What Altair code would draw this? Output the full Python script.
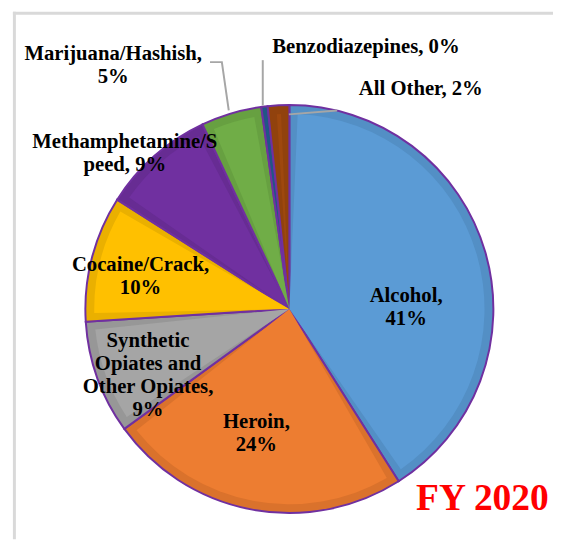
import math
import altair as alt
import pandas as pd

# ---- data -------------------------------------------------------------
categories = ["Alcohol", "Heroin", "Synthetic Opiates and Other Opiates",
              "Cocaine/Crack", "Methamphetamine/Speed", "Marijuana/Hashish",
              "Benzodiazepines", "All Other"]
shares = [41.0, 24.0, 9.0, 10.0, 9.0, 4.8, 0.5, 1.7]
label_text = ["Alcohol,\n41%", "Heroin,\n24%",
              "Synthetic\nOpiates and\nOther Opiates,\n9%",
              "Cocaine/Crack,\n10%", "Methamphetamine/S\npeed, 9%",
              "Marijuana/Hashish,\n5%", "Benzodiazepines, 0%", "All Other, 2%"]
title_text = "FY 2020"

# ---- styles / layout --------------------------------------------------
light_colors = ["#5B9BD5", "#ED7D31", "#A5A5A5", "#FFC000",
                "#7030A0", "#70AD47", "#255E91", "#9E480E"]
dark_colors = ["#538FC5", "#DA722C", "#979797", "#EAB000",
               "#672C93", "#67A041", "#215685", "#91420D"]
label_angle_deg = [83.7, 196.3, 257.4, 286.4, 315.4, 325.4, 16.3, 30.9]
label_radius = [119.2, 119.3, 147.0, 157.4, 237.8, 314.8, 276.9, 259.7]
leader_id = ["m", "m", "m", "b", "b", "o", "o"]
leader_x = [205, 217, 224, 258.5, 258.5, 285, 334]
leader_y = [51, 51, 100, 49, 95, 104, 100]

CX, CY, R = 285.5, 301.5, 207
FONT = "Liberation Serif"

pie_df = pd.DataFrame({
    "category": categories,
    "share": shares,
    "idx": list(range(len(categories))),
    "light": light_colors,
    "dark": dark_colors,
})
lab_df = pd.DataFrame({
    "label": label_text,
    "ang": [math.radians(a) for a in label_angle_deg],
    "r": label_radius,
})
lead_df = pd.DataFrame({
    "id": leader_id,
    "x": leader_x,
    "y": leader_y,
    "i": list(range(len(leader_x))),
})

one = alt.Data(values=[{"a": 1}])
frame_left = alt.Chart(one).mark_rule(color="#D9D9D9", strokeWidth=3).encode(
    x=alt.value(6.5), y=alt.value(0), y2=alt.value(535))
frame_top = alt.Chart(one).mark_rule(color="#D9D9D9", strokeWidth=3).encode(
    x=alt.value(5), x2=alt.value(553), y=alt.value(1.5))

dark = alt.Chart(pie_df).mark_arc(
    outerRadius=R, stroke="#7030A0", strokeWidth=2
).encode(
    theta=alt.Theta("share:Q", stack=True),
    order=alt.Order("idx:Q"),
    fill=alt.Fill("dark:N", scale=None),
    x=alt.value(CX), y=alt.value(CY),
)
light = alt.Chart(pie_df).mark_arc(
    outerRadius=R - 9, padAngle=0.085
).encode(
    theta=alt.Theta("share:Q", stack=True),
    order=alt.Order("idx:Q"),
    fill=alt.Fill("light:N", scale=None),
    x=alt.value(CX), y=alt.value(CY),
)

leaders = alt.Chart(lead_df).mark_line(color="#A6A6A6", strokeWidth=2).encode(
    x=alt.X("x:Q", scale=None, axis=None),
    y=alt.Y("y:Q", scale=None, axis=None),
    detail="id:N",
    order="i:Q",
)

labels = alt.Chart(lab_df).mark_text(
    font=FONT, fontSize=21, fontWeight="bold", lineBreak="\n",
    align="center", baseline="middle", lineHeight=23.5, color="#000000"
).encode(
    theta=alt.Theta("ang:Q", scale=None, stack=None),
    radius=alt.Radius("r:Q", scale=None),
    text="label:N",
    x=alt.value(CX), y=alt.value(CY),
)

title = alt.Chart(alt.Data(values=[{"t": title_text}])).mark_text(
    font=FONT, fontSize=38, fontWeight="bold", color="#FF0000",
    align="left", baseline="alphabetic"
).encode(text="t:N", x=alt.value(414), y=alt.value(505))

chart = alt.layer(frame_left, frame_top, dark, light, leaders, labels, title).properties(
    width=553, height=535, autosize="none", padding=0
).configure_view(strokeWidth=0)

chart.save("out.html", embed_options={"renderer": "svg", "actions": False})
